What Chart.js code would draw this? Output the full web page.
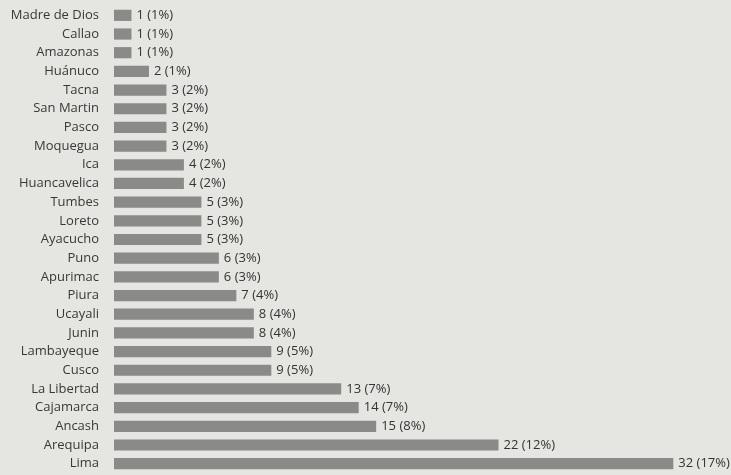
<!DOCTYPE html>
<html>
<head>
<meta charset="utf-8">
<script src="https://cdn.jsdelivr.net/npm/chart.js@4/dist/chart.umd.min.js"></script>
<style>
  html, body { margin: 0; padding: 0; background: #e5e5e2; }
  #wrap { width: 731px; height: 475px; position: relative; }
</style>
</head>
<body>
<div id="wrap"><canvas id="c"></canvas></div>
<script>
"use strict";

const regions = [
  "Madre de Dios", "Callao", "Amazonas", "Huánuco", "Tacna", "San Martin", "Pasco",
  "Moquegua", "Ica", "Huancavelica", "Tumbes", "Loreto", "Ayacucho", "Puno",
  "Apurimac", "Piura", "Ucayali", "Junin", "Lambayeque", "Cusco", "La Libertad",
  "Cajamarca", "Ancash", "Arequipa", "Lima",
];
const counts = [1, 1, 1, 2, 3, 3, 3, 3, 4, 4, 5, 5, 5, 6, 6, 7, 8, 8, 9, 9, 13, 14, 15, 22, 32];
const percents = [1, 1, 1, 1, 2, 2, 2, 2, 2, 2, 3, 3, 3, 3, 3, 4, 4, 4, 5, 5, 7, 7, 8, 12, 17];

// draws "N (P%)" just past the end of each bar
const valueLabels = {
  id: "valueLabels",
  afterDatasetsDraw(chart) {
    const ctx = chart.ctx;
    const meta = chart.getDatasetMeta(0);
    ctx.save();
    ctx.font = "13px 'Open Sans', sans-serif";
    ctx.fillStyle = "#333";
    ctx.textBaseline = "middle";
    meta.data.forEach((bar, i) => {
      ctx.fillText(`${counts[i]} (${percents[i]}%)`, bar.x + 5, bar.y);
    });
    ctx.restore();
  },
};

new Chart(document.getElementById("c"), {
  type: "bar",
  data: {
    labels: regions,
    datasets: [{
      data: counts,
      backgroundColor: "#8a8a89",
      borderWidth: 0,
      barPercentage: 0.6,
      categoryPercentage: 1,
    }],
  },
  options: {
    indexAxis: "y",
    responsive: true,
    maintainAspectRatio: false,
    animation: false,
    layout: { padding: { top: 6, bottom: 2, left: 0, right: 0 } },
    plugins: { legend: { display: false }, tooltip: { enabled: false } },
    scales: {
      x: { display: false, min: 0, max: 35.3 },
      y: {
        afterFit: (s) => { s.width = 114; s.paddingTop = 0; s.paddingBottom = 0; },
        grid: { display: false },
        border: { display: false },
        ticks: { color: "#383838", padding: 7, font: { size: 13, family: "'Open Sans', sans-serif" } },
      },
    },
  },
  plugins: [valueLabels],
});
</script>
</body>
</html>
